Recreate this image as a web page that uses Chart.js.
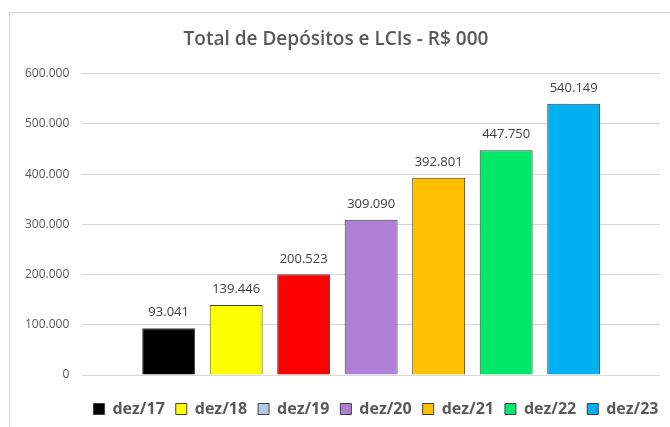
<!DOCTYPE html>
<html lang="pt-BR">
<head>
<meta charset="UTF-8" />
<title>Total de Depósitos e LCIs - R$ 000</title>
<style>
  html, body { margin: 0; padding: 0; background: #fff; }
  #wrap {
    position: absolute;
    left: 9px;
    top: 12px;
    width: 660px;
    height: 414px;
    border-left: 1px solid #d9d9d9;
    border-top: 1px solid #d9d9d9;
  }
</style>
</head>
<body>
<div id="wrap"><canvas id="chart"></canvas></div>
<script src="https://cdn.jsdelivr.net/npm/chart.js@4.4.0/dist/chart.umd.min.js"></script>
<script>
  // Dados
  const series = ['dez/17', 'dez/18', 'dez/19', 'dez/20', 'dez/21', 'dez/22', 'dez/23'];
  const valores = [93041, 139446, 200523, 309090, 392801, 447750, 540149];
  const coresBarra = ['#000000', '#ffff00', '#ff0000', '#b07fd6', '#ffc000', '#00e86a', '#00b0f0'];
  const coresLegenda = ['#000000', '#ffff00', '#b4c7e7', '#b07fd6', '#ffc000', '#00e86a', '#00b0f0'];
  const yTicks = [0, 100000, 200000, 300000, 400000, 500000, 600000];

  function fmt(v) {
    return String(v).replace(/\B(?=(\d{3})+(?!\d))/g, '.');
  }

  // rótulos de valor acima das barras
  const valueLabels = {
    id: 'valueLabels',
    afterDatasetsDraw(chart) {
      const ctx = chart.ctx;
      ctx.save();
      ctx.font = '13px "Open Sans", sans-serif';
      ctx.fillStyle = '#404040';
      ctx.textAlign = 'center';
      ctx.textBaseline = 'bottom';
      chart.data.datasets.forEach((ds, i) => {
        const bar = chart.getDatasetMeta(i).data[0];
        if (!bar || ds.data[0] == null) return;
        ctx.fillText(fmt(ds.data[0]), bar.x, bar.y - 9);
      });
      ctx.restore();
    }
  };

  // legenda deslocada um pouco para a direita (como no original)
  const legendShift = {
    id: 'legendShift',
    afterLayout(chart) {
      chart.legend.left += 40;
      chart.legend.right += 40;
    }
  };

  const ctx = document.getElementById('chart').getContext('2d');

  new Chart(ctx, {
    type: 'bar',
    data: {
      labels: [''],
      datasets: series.map((s, i) => ({
        label: s,
        data: [valores[i]],
        backgroundColor: coresBarra[i],
        borderColor: '#404040',
        borderWidth: 1,
        categoryPercentage: 0.818,
        barPercentage: 0.784
      }))
    },
    options: {
      responsive: true,
      maintainAspectRatio: false,
      animation: false,
      layout: { padding: { top: 6, left: 2, right: 10, bottom: 0 } },
      scales: {
        x: {
          display: true,
          grid: { display: false },
          border: { display: false },
          ticks: { display: false },
          afterFit(axis) { axis.height = 15; }
        },
        y: {
          min: 0,
          max: 600000,
          afterBuildTicks(axis) {
            axis.ticks = yTicks.map(v => ({ value: v }));
          },
          border: { display: false },
          grid: { color: '#d9d9d9', drawTicks: false },
          ticks: {
            padding: 13,
            color: '#595959',
            font: { size: 12, family: '"Open Sans", sans-serif' },
            callback: v => fmt(v)
          }
        }
      },
      plugins: {
        title: {
          display: true,
          text: 'Total de Depósitos e LCIs - R$ 000',
          color: '#595959',
          font: { size: 19, weight: '600', family: '"Open Sans", sans-serif' },
          padding: { top: 9, bottom: 23 }
        },
        legend: {
          position: 'bottom',
          labels: {
            color: '#595959',
            font: { size: 16, weight: 'bold', family: '"Open Sans", sans-serif' },
            boxWidth: 11,
            boxHeight: 11,
            padding: 11,
            generateLabels(chart) {
              return series.map((s, i) => ({
                text: s,
                fillStyle: coresLegenda[i],
                strokeStyle: '#404040',
                lineWidth: 1,
                fontColor: '#595959',
                datasetIndex: i,
                hidden: false
              }));
            }
          }
        },
        tooltip: { enabled: false }
      }
    },
    plugins: [valueLabels, legendShift]
  });
</script>
</body>
</html>
